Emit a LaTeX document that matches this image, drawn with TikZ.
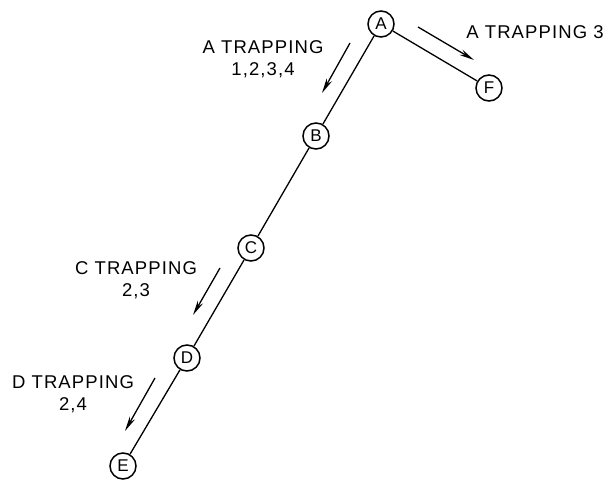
\documentclass[tikz,border=0pt]{standalone}
\usepackage{fontspec}
\setmainfont{Liberation Sans}
\newfontfamily\lbl[LetterSpace=6]{Liberation Sans}
\usetikzlibrary{arrows.meta}
\begin{document}
\begin{tikzpicture}[x=1pt,y=-1pt,
  pt/.style={circle,draw,line width=1.5pt,minimum size=26pt,inner sep=0pt,font=\fontsize{17}{17}\selectfont},
  conn/.style={line width=1.3pt},
  flow/.style={line width=1.3pt,-{Stealth[length=15pt,width=6pt]}},
  txt/.style={font=\lbl\fontsize{18.5}{22}\selectfont,align=center,inner sep=0pt}]
\useasboundingbox (0,0) rectangle (607,481);
\node[pt] (A) at (381,24) {A};
\node[pt] (B) at (316,136) {B};
\node[pt] (C) at (251,248) {C};
\node[pt] (D) at (187,358) {D};
\node[pt] (E) at (123,466) {E};
\node[pt] (F) at (489,88) {F};
\draw[conn] (A) -- (B);
\draw[conn] (B) -- (C);
\draw[conn] (C) -- (D);
\draw[conn] (D) -- (E);
\draw[conn] (A) -- (F);
\coordinate (a1s) at (350,43); \coordinate (a1e) at (322,93);
\coordinate (a2s) at (418,27); \coordinate (a2e) at (474,60);
\coordinate (c1s) at (220,268); \coordinate (c1e) at (193,315);
\coordinate (d1s) at (155,378); \coordinate (d1e) at (125,431);
\draw[flow] (a1s) -- (a1e);
\draw[flow] (a2s) -- (a2e);
\draw[flow] (c1s) -- (c1e);
\draw[flow] (d1s) -- (d1e);
\node[txt] (ta) at (263,59) {A TRAPPING\\1,2,3,4};
\node[txt] (tf) at (535,32) {A TRAPPING 3};
\node[txt] (tc) at (136,280) {C TRAPPING\\2,3};
\node[txt] (td) at (73,394) {D TRAPPING\\2,4};
\end{tikzpicture}
\end{document}
